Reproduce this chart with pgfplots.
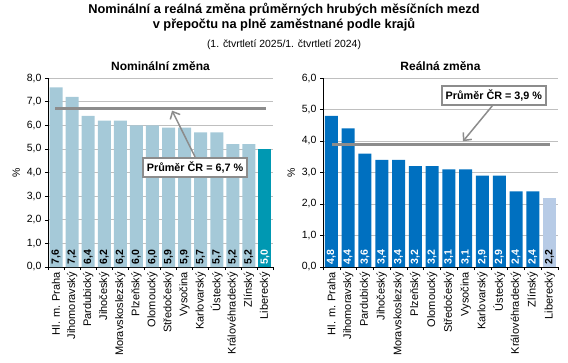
\documentclass[border=0pt]{standalone}
\usepackage{pgfplots}
\pgfplotsset{compat=1.18}
\usepackage{fontspec}
\setmainfont{Liberation Sans}
\usetikzlibrary{arrows.meta}
\definecolor{nomc}{HTML}{A5C9D8}
\definecolor{nomlib}{HTML}{0098B2}
\definecolor{realc}{HTML}{0070C0}
\definecolor{reallib}{HTML}{B7CBE6}
\definecolor{avgc}{HTML}{8C8C8C}
\definecolor{gridc}{HTML}{BFBFBF}

\pgfplotstableread{
x y
0 7.6
1 7.2
2 6.4
3 6.2
4 6.2
5 6.0
6 6.0
7 5.9
8 5.9
9 5.7
10 5.7
11 5.2
12 5.2
}\nomdata
\pgfplotstableread{
x y
13 5.0
}\nomlib
\pgfplotstableread{
x y
0 4.8
1 4.4
2 3.6
3 3.4
4 3.4
5 3.2
6 3.2
7 3.1
8 3.1
9 2.9
10 2.9
11 2.4
12 2.4
}\realdata
\pgfplotstableread{
x y
13 2.2
}\reallib

\pgfplotsset{
 /pgf/number format/use comma,
 mybars/.style={
  scale only axis, height=189pt, ymin=0,
  xmin=-0.5, xmax=13.5,
  ybar, bar width=13pt, bar shift=0pt,
  axis x line*=bottom, axis y line*=left,
  axis line style={line width=0.6pt},
  xtick={0,...,13},
  xticklabels={Hl. m. Praha,Jihomoravský,Pardubický,Jihočeský,Moravskoslezský,Plzeňský,Olomoucký,Středočeský,Vysočina,Karlovarský,Ústecký,Královéhradecký,Zlínský,Liberecký},
  x tick label style={rotate=90, anchor=east, font=\fontsize{11}{12}\selectfont, inner sep=2pt},
  major x tick style={draw=none},
  minor xtick={-0.5,0.5,...,13.5},
  minor tick length=3pt,
  major tick length=3pt,
  tick align=outside,
  tick style={black, line width=0.5pt},
  y tick label style={font=\fontsize{10.5}{12}\selectfont},
  /pgf/number format/assume math mode=true,
  yticklabel={\pgfmathprintnumber[fixed,fixed zerofill,precision=1,use comma]{\tick}},
  ymajorgrids, grid style={gridc, line width=0.7pt},
  ylabel={\%}, ylabel style={font=\fontsize{10.5}{12}\selectfont},
  title style={font=\bfseries\fontsize{12}{14}\selectfont},
  clip=false,
 },
 lbl/.style={
  nodes near coords={\pgfmathprintnumber[fixed,fixed zerofill,precision=1,use comma]{\pgfplotspointmeta}},
  nodes near coords align={center},
  scatter/position=absolute,
  every node near coord/.style={at={(axis cs:\pgfkeysvalueof{/data point/x},0)}, anchor=west, rotate=90, font=\bfseries\fontsize{10.5}{10}\selectfont, inner sep=2.5pt, text=#1},
 },
}

\begin{document}
\begin{tikzpicture}
\useasboundingbox (0pt,0pt) rectangle (568pt,362pt);
\node[font=\bfseries\fontsize{12.8}{15}\selectfont] at (284pt,352pt) {Nominální a reálná změna průměrných hrubých měsíčních mezd};
\node[font=\bfseries\fontsize{12.8}{15}\selectfont] at (284pt,337pt) {v přepočtu na plně zaměstnané podle krajů};
\node[font=\fontsize{10.4}{12}\selectfont] at (284pt,317pt) {(1. čtvrtletí 2025/1. čtvrtletí 2024)};

\begin{axis}[mybars, at={(48pt,95pt)}, anchor=south west, width=225pt,
  ymax=8, ytick={0,1,...,8}, title={Nominální změna}, title style={at={(0.5,1)}, yshift=-2pt}]
\addplot[fill=nomc, draw=none, lbl=black] table[x=x,y=y]{\nomdata};
\addplot[fill=nomlib, draw=none, lbl=white] table[x=x,y=y]{\nomlib};
\addplot[avgc, line width=3pt, sharp plot, no markers] coordinates {(-0.05,6.7) (13.05,6.7)};
\draw[avgc, line width=1.5pt, -{Straight Barb[length=6pt,width=11pt]}] (axis cs:8.65,4.66) -- (axis cs:7.22,6.62);
\node[draw=avgc, line width=2pt, fill=white, font=\bfseries\fontsize{10.8}{12}\selectfont, inner xsep=4pt, inner ysep=4pt] at (axis cs:8.65,4.21) {Průměr ČR = 6,7 \%};
\end{axis}

\begin{axis}[mybars, at={(323pt,95pt)}, anchor=south west, width=235pt,
  ymax=6, ytick={0,1,...,6}, title={Reálná změna}, title style={at={(0.5,1)}, yshift=-2pt}]
\addplot[fill=realc, draw=none, lbl=white] table[x=x,y=y]{\realdata};
\addplot[fill=reallib, draw=none, lbl=black] table[x=x,y=y]{\reallib};
\addplot[avgc, line width=3pt, sharp plot, no markers] coordinates {(0.05,3.9) (13.02,3.9)};
\draw[avgc, line width=1.5pt, -{Straight Barb[length=6pt,width=11pt]}] (axis cs:9.62,5.14) -- (axis cs:7.84,3.99);
\node[draw=avgc, line width=2pt, fill=white, font=\bfseries\fontsize{10.8}{12}\selectfont, inner xsep=4pt, inner ysep=4pt] at (axis cs:9.68,5.44) {Průměr ČR = 3,9 \%};
\end{axis}
\end{tikzpicture}
\end{document}
